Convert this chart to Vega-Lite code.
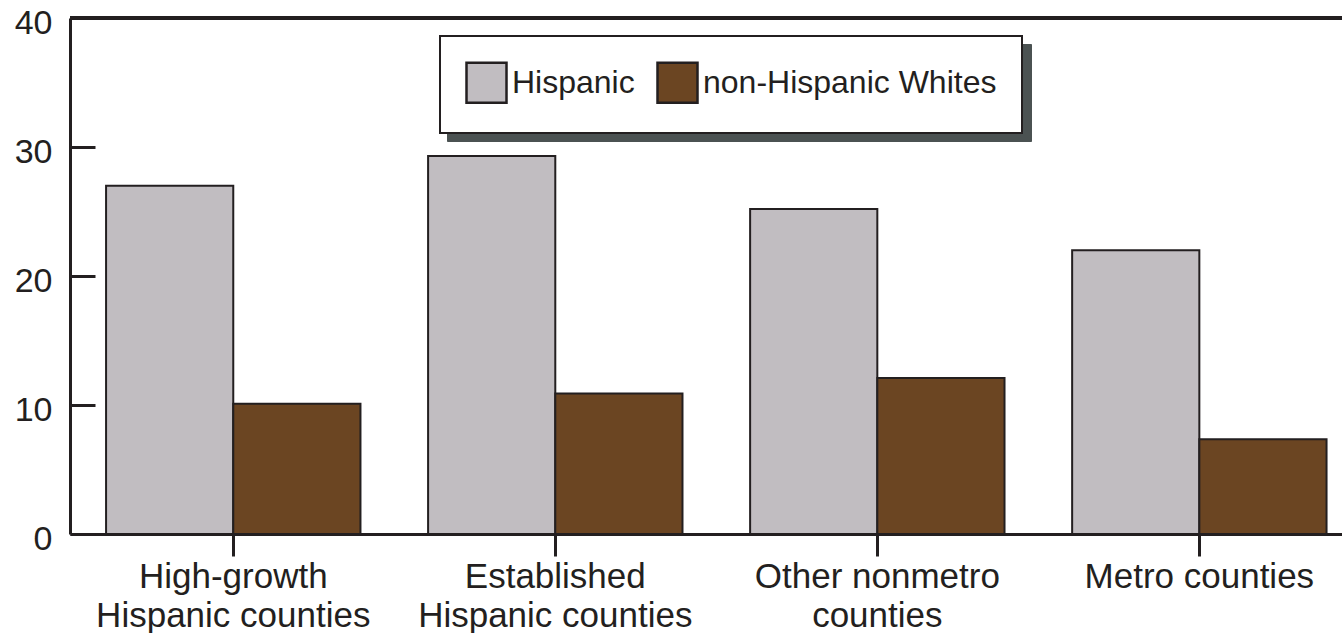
{
  "$schema": "https://vega.github.io/schema/vega-lite/v6.json",
  "width": 1272,
  "height": 516,
  "autosize": {"type": "none"},
  "padding": {"left": 70, "top": 18, "right": 0, "bottom": 99},
  "background": "white",
  "config": {
    "view": {"stroke": null},
    "font": "Liberation Sans",
    "axis": {"labelFont": "Liberation Sans", "labelColor": "#231f20", "domainColor": "#231f20", "tickColor": "#231f20", "grid": false, "title": null, "labelLimit": 0}
  },
  "data": {
    "values": [
      {"group": "High-growth Hispanic counties", "population": "Hispanic", "value": 27.0},
      {"group": "High-growth Hispanic counties", "population": "non-Hispanic Whites", "value": 10.1},
      {"group": "Established Hispanic counties", "population": "Hispanic", "value": 29.3},
      {"group": "Established Hispanic counties", "population": "non-Hispanic Whites", "value": 10.9},
      {"group": "Other nonmetro counties", "population": "Hispanic", "value": 25.2},
      {"group": "Other nonmetro counties", "population": "non-Hispanic Whites", "value": 12.1},
      {"group": "Metro counties", "population": "Hispanic", "value": 22.0},
      {"group": "Metro counties", "population": "non-Hispanic Whites", "value": 7.35}
    ]
  },
  "layer": [
    {
      "mark": {"type": "bar", "strokeWidth": 2},
      "encoding": {
        "x": {
          "field": "group",
          "type": "nominal",
          "sort": null,
          "scale": {"paddingInner": 0.21, "paddingOuter": 0.08, "align": 0.7},
          "axis": {
            "orient": "bottom",
            "labelAngle": 0,
            "labelFontSize": 35,
            "labelLineHeight": 39,
            "labelPadding": 3,
            "tickSize": 22,
            "tickWidth": 3,
            "domainWidth": 3,
            "labelExpr": "datum.value == 'High-growth Hispanic counties' ? ['High-growth', 'Hispanic counties'] : datum.value == 'Established Hispanic counties' ? ['Established', 'Hispanic counties'] : datum.value == 'Other nonmetro counties' ? ['Other nonmetro', 'counties'] : datum.value"
          }
        },
        "xOffset": {
          "field": "population",
          "type": "nominal",
          "sort": null,
          "scale": {"paddingInner": 0, "paddingOuter": 0}
        },
        "y": {
          "field": "value",
          "type": "quantitative",
          "scale": {"domain": [0, 40], "nice": false},
          "axis": {
            "values": [0, 10, 20, 30, 40],
            "labelFontSize": 34,
            "tickSize": -25,
            "tickWidth": 3,
            "labelPadding": 43,
            "labelOffset": 5,
            "domainWidth": 3
          }
        },
        "color": {
          "field": "population",
          "type": "nominal",
          "sort": null,
          "scale": {"domain": ["Hispanic", "non-Hispanic Whites"], "range": ["#c1bdc1", "#6b4522"]},
          "legend": {
            "title": null,
            "orient": "none",
            "legendX": 370,
            "legendY": 18,
            "zindex": 2,
            "direction": "horizontal",
            "fillColor": "white",
            "strokeColor": "#231f20",
            "padding": 25,
            "symbolType": "square",
            "symbolSize": 1600,
            "symbolStrokeColor": "#231f20",
            "symbolStrokeWidth": 2.5,
            "symbolOpacity": 1,
            "labelFont": "Liberation Sans",
            "labelFontSize": 32,
            "labelColor": "#231f20",
            "labelLimit": 0,
            "labelOffset": 4,
            "columnPadding": 17,
            "encode": {"legend": {"update": {"strokeWidth": {"value": 2}}}}
          }
        },
        "stroke": {
          "field": "group",
          "type": "nominal",
          "sort": null,
          "scale": {"range": ["#231f20", "#231f20", "#231f20", "#231f20"]},
          "legend": {
            "title": null,
            "orient": "none",
            "legendX": 377,
            "legendY": 26,
            "zindex": 1,
            "direction": "horizontal",
            "columns": 4,
            "fillColor": "#4b5252",
            "strokeColor": "#4b5252",
            "padding": 25,
            "symbolType": "square",
            "symbolSize": 2116,
            "symbolOpacity": 0,
            "labelExpr": "''",
            "labelOffset": 0,
            "columnPadding": 114
          }
        }
      }
    },
    {
      "mark": {"type": "rule", "color": "#231f20", "strokeWidth": 3},
      "encoding": {"y": {"datum": 40}}
    }
  ]
}
